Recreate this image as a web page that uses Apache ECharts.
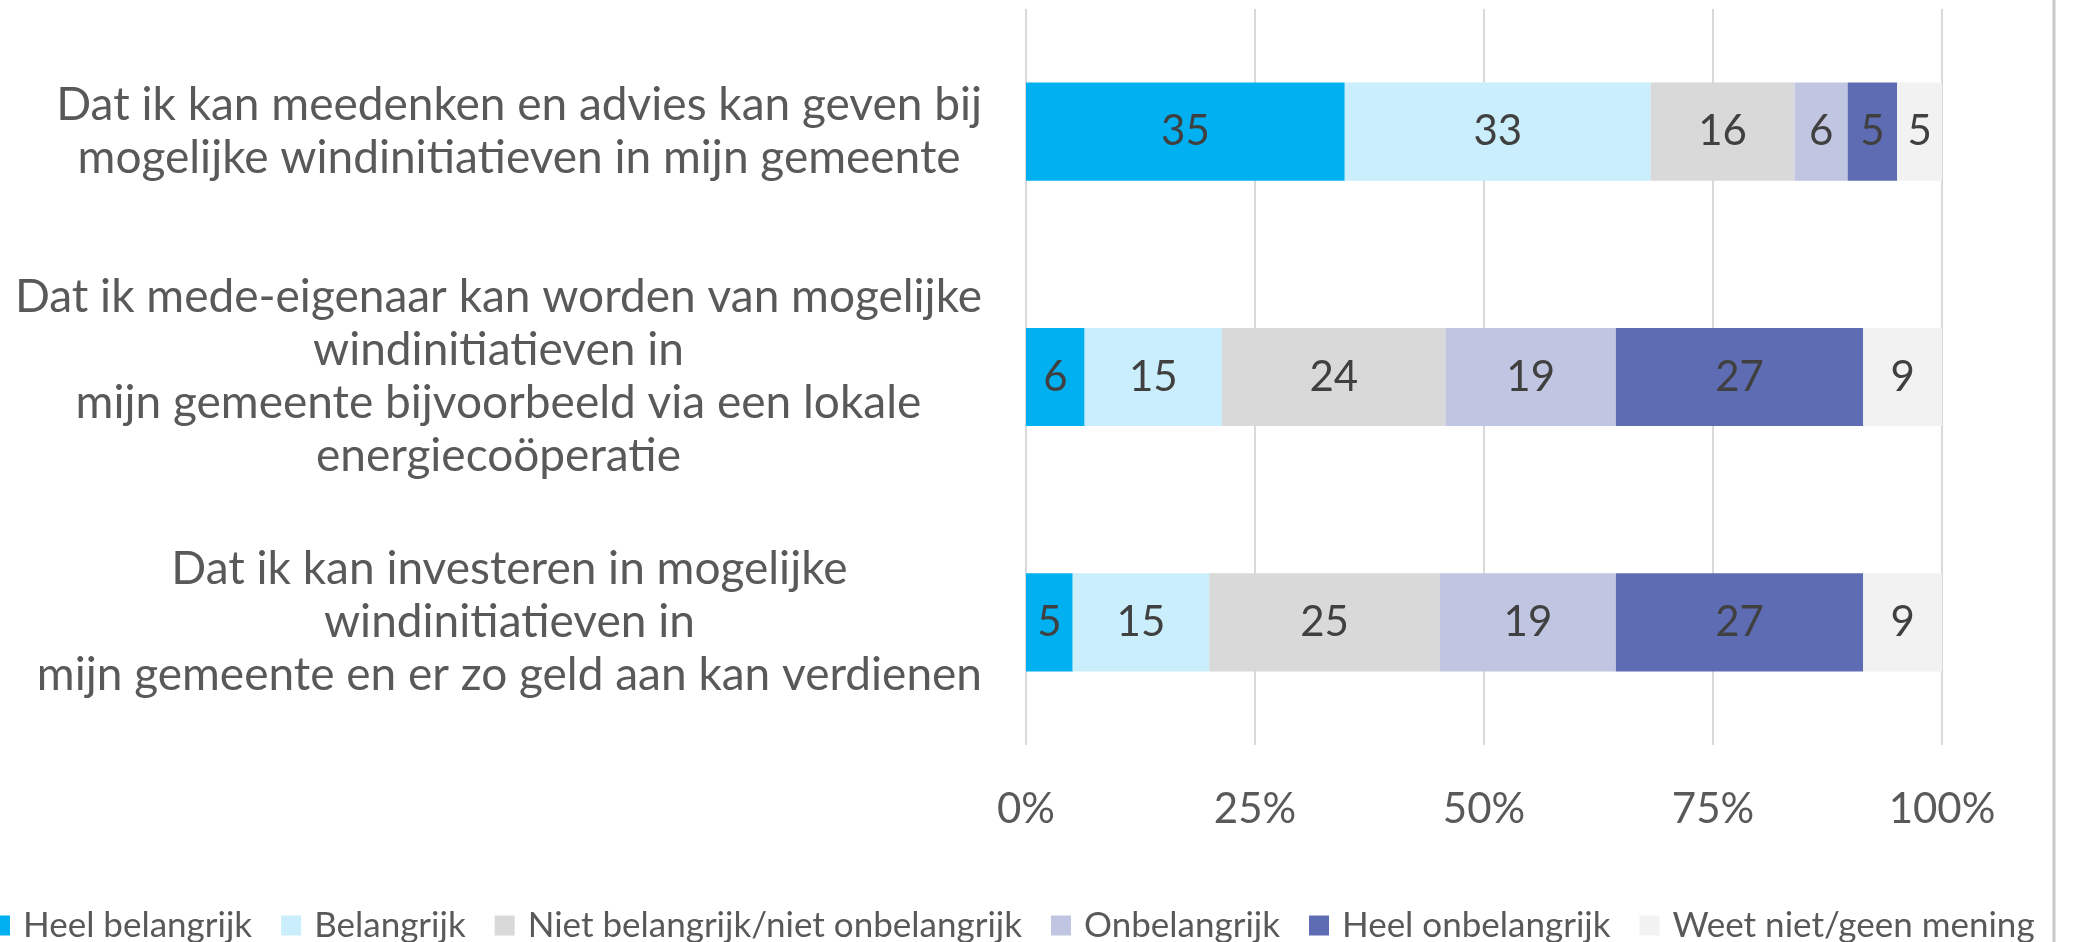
<!DOCTYPE html>
<html>
<head>
<meta charset="utf-8">
<title>Windinitiatieven</title>
<script src="https://cdn.jsdelivr.net/npm/echarts@6/dist/echarts.min.js"></script>
<style>
html, body { margin:0; height:100%; background:#fff; }
</style>
</head>
<body>
<div id="main" style="width:2080px;height:942px;"></div>
<script>
// categories (top to bottom)
var categories = [
    'Dat ik kan meedenken en advies kan geven bij\nmogelijke windinitiatieven in mijn gemeente',
    'Dat ik mede-eigenaar kan worden van mogelijke\nwindinitiatieven in\nmijn gemeente bijvoorbeeld via een lokale\nenergiecoöperatie',
    'Dat ik kan investeren in mogelijke\nwindinitiatieven in\nmijn gemeente en er zo geld aan kan verdienen'
];
var seriesNames = ['Heel belangrijk', 'Belangrijk', 'Niet belangrijk/niet onbelangrijk', 'Onbelangrijk', 'Heel onbelangrijk', 'Weet niet/geen mening'];
var seriesColors = ['#00B0F0', '#CAEEFB', '#D9D9D9', '#C0C5E1', '#5E6CB4', '#F2F2F2'];
// percentages per answer, per category
var heelBelangrijk = [34.8, 6.4, 5.1];
var belangrijk     = [33.4, 15.0, 14.9];
var neutraal       = [15.7, 24.4, 25.2];
var onbelangrijk   = [5.8, 18.6, 19.2];
var heelOnbelangrijk = [5.4, 27.0, 27.0];
var weetNiet       = [4.9, 8.6, 8.6];
var xTicks = [0, 25, 50, 75, 100];

var values = [heelBelangrijk, belangrijk, neutraal, onbelangrijk, heelOnbelangrijk, weetNiet];
var fontFam = 'Lato';

var myChart = echarts.init(document.getElementById('main'));

var series = seriesNames.map(function (name, i) {
    return {
        name: name,
        type: 'bar',
        stack: 'totaal',
        barWidth: '40%',
        itemStyle: { color: seriesColors[i] },
        label: {
            show: true,
            position: 'inside',
            color: '#404040',
            fontFamily: fontFam,
            fontSize: 42,
            formatter: function (p) { return Math.round(p.value); }
        },
        emphasis: { disabled: true },
        data: values[i]
    };
});

var option = {
    animation: false,
    grid: { left: 1026, right: 138, top: 9, height: 736 },
    legend: {
        data: seriesNames,
        left: -15,
        top: 903,
        width: 2400,
        icon: 'rect',
        itemWidth: 20,
        itemHeight: 20,
        itemGap: 29,
        textStyle: { color: '#595959', fontFamily: fontFam, fontSize: 35, padding: [0, 0, 0, 8] }
    },
    xAxis: {
        type: 'value',
        min: xTicks[0],
        max: xTicks[xTicks.length - 1],
        interval: 25,
        axisLine: { show: false },
        axisTick: { show: false },
        splitLine: { lineStyle: { color: '#D9D9D9', width: 2 } },
        axisLabel: {
            color: '#595959',
            fontFamily: fontFam,
            fontSize: 42,
            margin: 43,
            formatter: '{value}%'
        }
    },
    yAxis: {
        type: 'category',
        inverse: true,
        data: categories,
        axisLine: { show: false },
        axisTick: { show: false },
        axisLabel: {
            margin: 44,
            align: 'right',
            formatter: function (v) {
                return v.split('\n').map(function (l) { return '{c|' + l + '}'; }).join('\n');
            },
            rich: {
                c: {
                    align: 'center',
                    color: '#595959',
                    fontFamily: fontFam,
                    fontSize: 46,
                    lineHeight: 53
                }
            }
        }
    },
    graphic: [{
        type: 'line',
        shape: { x1: 2054, y1: 0, x2: 2054, y2: 942 },
        style: { stroke: '#C8C8C8', lineWidth: 3 }
    }],
    series: series
};

myChart.setOption(option);
</script>
</body>
</html>
